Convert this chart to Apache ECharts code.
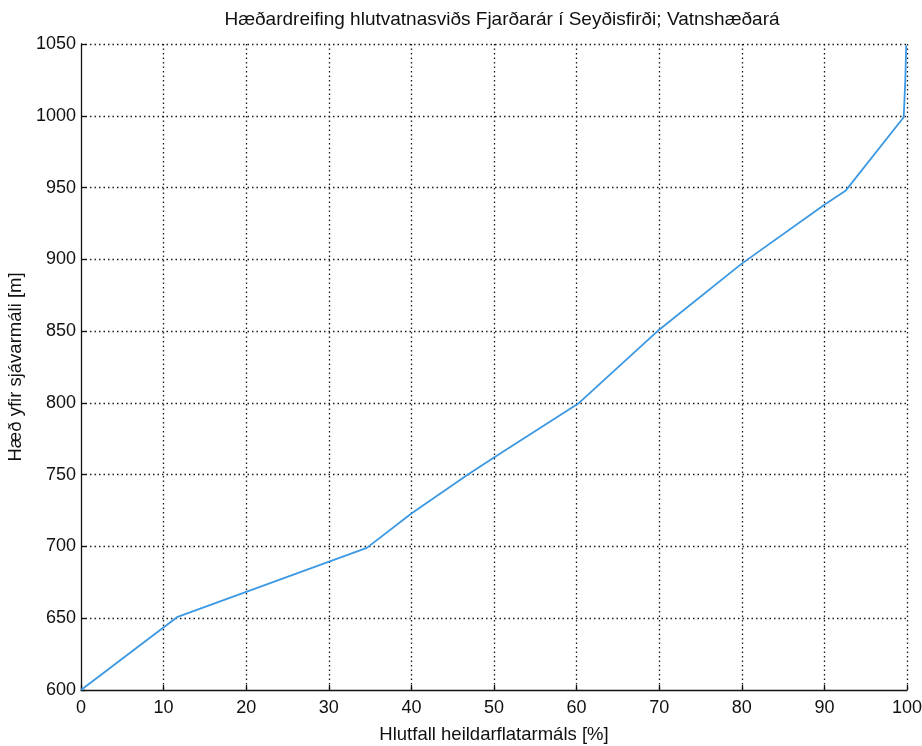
<!DOCTYPE html>
<html>
<head>
<meta charset="utf-8">
<script src="https://cdn.jsdelivr.net/npm/echarts@6/dist/echarts.min.js"></script>
<style>
  html, body { margin: 0; padding: 0; background: #fff; }
  #chart { width: 922px; height: 746px; }
</style>
</head>
<body>
<div id="chart"></div>
<script>
// Hypsometric curve: cumulative share of catchment area [%] vs elevation [m]
const areaPercent = [0, 11.7, 34.6, 40, 46.8, 50, 60.3, 70, 80, 90, 92.6, 99.6, 99.8, 99.9];
const elevation   = [600, 651, 699, 723, 750, 762, 800, 851, 897, 938, 948, 999, 1025, 1049];

const titleText = 'Hæðardreifing hlutvatnasviðs Fjarðarár í Seyðisfirði; Vatnshæðará';
const xName = 'Hlutfall heildarflatarmáls [%]';
const yName = 'Hæð yfir sjávarmáli [m]';

const points = areaPercent.map((v, i) => [v, elevation[i]]);

const font = 'Liberation Sans, Arial, sans-serif';
const dotted = { color: '#1a1a1a', width: 1.3, type: [1.5, 3] };

const chart = echarts.init(document.getElementById('chart'));
chart.setOption({
  animation: false,
  backgroundColor: '#fff',
  title: {
    text: titleText,
    left: 497, top: 5, textAlign: 'center',
    textStyle: { fontFamily: font, fontSize: 19, fontWeight: 'normal', color: '#111' }
  },
  grid: { left: 81, right: 15, top: 44, bottom: 56, containLabel: false, outerBoundsMode: 'none' },
  xAxis: {
    type: 'value', min: 0, max: 100, interval: 10,
    name: xName, nameLocation: 'middle', nameGap: 35,
    nameTextStyle: { fontFamily: font, fontSize: 18.5, color: '#111' },
    axisLine: { show: true, lineStyle: { color: '#111', width: 1.3 } },
    axisTick: { show: true, inside: true, length: 5, lineStyle: { color: '#111', width: 1.3 } },
    axisLabel: { fontFamily: font, fontSize: 18, color: '#111', margin: 9, formatter: v => String(v) },
    splitLine: { show: true, showMinLine: false, lineStyle: dotted }
  },
  yAxis: {
    type: 'value', min: 600, max: 1050, interval: 50,
    name: yName, nameLocation: 'middle', nameGap: 53,
    nameTextStyle: { fontFamily: font, fontSize: 18.5, color: '#111' },
    axisLine: { show: true, lineStyle: { color: '#111', width: 1.3 } },
    axisTick: { show: true, inside: true, length: 5, lineStyle: { color: '#111', width: 1.3 } },
    axisLabel: { fontFamily: font, fontSize: 18, color: '#111', margin: 5, formatter: v => String(v) },
    splitLine: { show: true, showMinLine: false, lineStyle: dotted }
  },
  series: [{
    type: 'line',
    data: points,
    showSymbol: false,
    lineStyle: { color: '#3b98e3', width: 1.8 }
  }]
});
</script>
</body>
</html>
